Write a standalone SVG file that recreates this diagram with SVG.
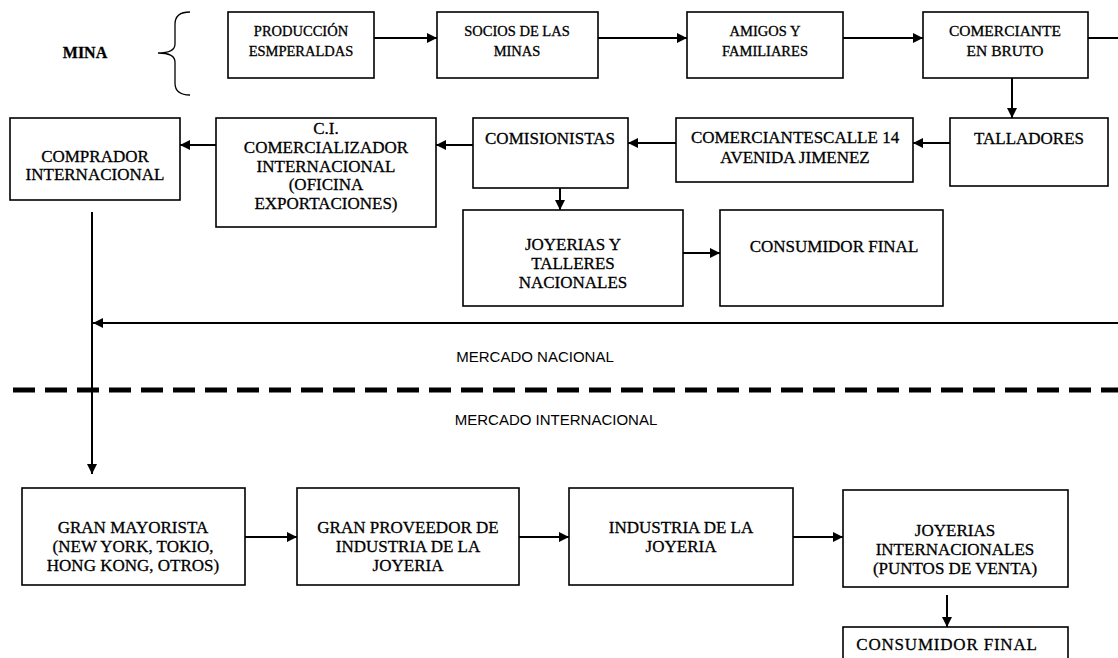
<svg xmlns="http://www.w3.org/2000/svg" width="1118" height="658" viewBox="0 0 1118 658">
<defs>
<style>
.box{fill:#fff;stroke:#000;stroke-width:1.6}
.t{font-family:"Liberation Serif","Times New Roman",serif;font-size:17px;fill:#000;stroke:#000;stroke-width:0.3;text-anchor:middle}
.t1{font-family:"Liberation Serif","Times New Roman",serif;font-size:14.5px;fill:#000;stroke:#000;stroke-width:0.3;text-anchor:middle}
.s{font-family:"Liberation Sans",Arial,sans-serif;font-size:15px;fill:#000;text-anchor:middle}
.c{fill:none;stroke:#000;stroke-width:2}
</style>
<marker id="ah" viewBox="0 0 10 10" refX="10" refY="5" markerWidth="5" markerHeight="5" orient="auto" markerUnits="strokeWidth">
<path d="M0,0 L10,5 L0,10 z" fill="#000"/>
</marker>
</defs>
<rect width="1118" height="658" fill="#fff"/>

<g id="mina">
<text class="t1" x="85" y="58" font-weight="bold" style="font-size:16px">MINA</text>
<path d="M190,12 Q175,12 175,24 L175,44 Q175,53 158,53 Q175,53 175,62 L175,83 Q175,95 190,95" fill="none" stroke="#000" stroke-width="1.3"/>
</g>

<g id="produccion"><rect class="box" x="228" y="12" width="146" height="66"/><text class="t1" x="301" y="36">PRODUCCIÓN</text><text class="t1" x="301" y="56">ESMPERALDAS</text></g>
<g id="socios"><rect class="box" x="437" y="12" width="161" height="66"/><text class="t1" x="517" y="36">SOCIOS DE LAS</text><text class="t1" x="517" y="56">MINAS</text></g>
<g id="amigos"><rect class="box" x="687" y="12" width="156" height="66"/><text class="t1" x="765" y="36">AMIGOS Y</text><text class="t1" x="765" y="56">FAMILIARES</text></g>
<g id="comerciante-bruto"><rect class="box" x="923" y="12" width="165" height="66"/><text class="t1" x="1005" y="36" style="font-size:15.5px">COMERCIANTE</text><text class="t1" x="1005" y="56" style="font-size:15.5px">EN BRUTO</text></g>

<g id="comprador"><rect class="box" x="10" y="118" width="170" height="82"/><text class="t" x="95" y="162">COMPRADOR</text><text class="t" x="95" y="180">INTERNACIONAL</text></g>
<g id="ci"><rect class="box" x="216" y="118" width="220" height="109"/><text class="t" x="326" y="134">C.I.</text><text class="t" x="326" y="153">COMERCIALIZADOR</text><text class="t" x="326" y="172">INTERNACIONAL</text><text class="t" x="326" y="190">(OFICINA</text><text class="t" x="326" y="209">EXPORTACIONES)</text></g>
<g id="comisionistas"><rect class="box" x="473" y="118" width="155" height="70"/><text class="t" x="550" y="144">COMISIONISTAS</text></g>
<g id="comerciantes-calle"><rect class="box" x="676" y="118" width="237" height="64"/><text class="t" x="795" y="143">COMERCIANTESCALLE 14</text><text class="t" x="795" y="163">AVENIDA JIMENEZ</text></g>
<g id="talladores"><rect class="box" x="950" y="118" width="158" height="68"/><text class="t" x="1029" y="144">TALLADORES</text></g>

<g id="joyerias-nac"><rect class="box" x="463" y="210" width="220" height="96"/><text class="t" x="573" y="250">JOYERIAS  Y</text><text class="t" x="573" y="269">TALLERES</text><text class="t" x="573" y="288">NACIONALES</text></g>
<g id="consumidor-nac"><rect class="box" x="720" y="210" width="223" height="96"/><text class="t" x="834" y="252">CONSUMIDOR FINAL</text></g>

<g id="labels">
<text class="s" x="535" y="362">MERCADO NACIONAL</text>
<text class="s" x="556" y="425">MERCADO INTERNACIONAL</text>
<line x1="13" y1="390" x2="1118" y2="390" stroke="#000" stroke-width="5" stroke-dasharray="22 10"/>
</g>

<g id="mayorista"><rect class="box" x="22" y="488" width="223" height="97"/><text class="t" x="133" y="533">GRAN MAYORISTA</text><text class="t" x="133" y="552">(NEW YORK, TOKIO,</text><text class="t" x="133" y="571">HONG KONG, OTROS)</text></g>
<g id="proveedor"><rect class="box" x="297" y="488" width="222" height="97"/><text class="t" x="408" y="533">GRAN PROVEEDOR DE</text><text class="t" x="408" y="552">INDUSTRIA DE LA</text><text class="t" x="408" y="571">JOYERIA</text></g>
<g id="industria"><rect class="box" x="569" y="488" width="224" height="97"/><text class="t" x="681" y="533">INDUSTRIA DE LA</text><text class="t" x="681" y="552">JOYERIA</text></g>
<g id="joyerias-int"><rect class="box" x="843" y="490" width="225" height="97"/><text class="t" x="955" y="536">JOYERIAS</text><text class="t" x="955" y="555">INTERNACIONALES</text><text class="t" x="955" y="574">(PUNTOS DE VENTA)</text></g>
<g id="consumidor-int"><rect class="box" x="843" y="627" width="225" height="40"/><text class="t" x="947" y="650" style="letter-spacing:0.8px">CONSUMIDOR FINAL</text></g>

<g id="connectors">
<line class="c" x1="374" y1="38" x2="437" y2="38" marker-end="url(#ah)"/>
<line class="c" x1="598" y1="38" x2="687" y2="38" marker-end="url(#ah)"/>
<line class="c" x1="843" y1="38" x2="923" y2="38" marker-end="url(#ah)"/>
<line class="c" x1="1088" y1="38" x2="1118" y2="38"/>
<line class="c" x1="1012" y1="78" x2="1012" y2="118" marker-end="url(#ah)"/>
<line class="c" x1="950" y1="143" x2="913" y2="143" marker-end="url(#ah)"/>
<line class="c" x1="676" y1="143" x2="628" y2="143" marker-end="url(#ah)"/>
<line class="c" x1="473" y1="145" x2="436" y2="145" marker-end="url(#ah)"/>
<line class="c" x1="216" y1="145" x2="180" y2="145" marker-end="url(#ah)"/>
<line class="c" x1="560" y1="188" x2="560" y2="210" marker-end="url(#ah)"/>
<line class="c" x1="683" y1="253" x2="720" y2="253" marker-end="url(#ah)"/>
<line class="c" x1="1118" y1="323" x2="93" y2="323" marker-end="url(#ah)"/>
<line class="c" x1="92" y1="212" x2="92" y2="474" marker-end="url(#ah)"/>
<line class="c" x1="245" y1="537" x2="297" y2="537" marker-end="url(#ah)"/>
<line class="c" x1="519" y1="537" x2="569" y2="537" marker-end="url(#ah)"/>
<line class="c" x1="793" y1="537" x2="843" y2="537" marker-end="url(#ah)"/>
<line class="c" x1="947" y1="595" x2="947" y2="627" marker-end="url(#ah)"/>
</g>
</svg>
